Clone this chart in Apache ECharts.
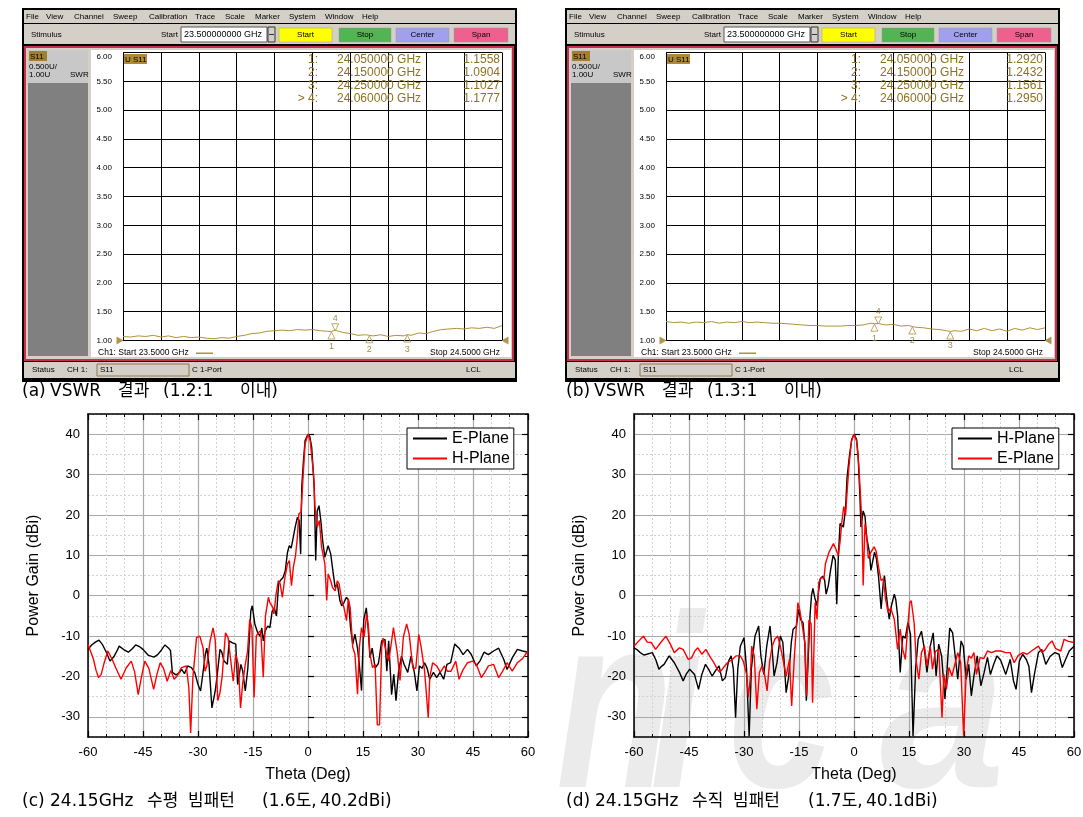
<!DOCTYPE html>
<html><head><meta charset="utf-8">
<script src="https://cdn.jsdelivr.net/npm/echarts@6/dist/echarts.min.js"></script>
<style>html,body{margin:0;padding:0;background:#fff}#c{width:1083px;height:817px}</style>
</head><body><div id="c"></div>
<script>
// ---------------- DATA ----------------
const vswrFreq = [23.50,23.52,23.54,23.56,23.58,23.60,23.62,23.64,23.66,23.68,23.70,23.72,23.74,23.76,23.78,23.80,23.82,23.84,23.86,23.88,23.90,23.92,23.94,23.96,23.98,24.00,24.02,24.04,24.05,24.06,24.08,24.10,24.12,24.14,24.15,24.16,24.18,24.20,24.22,24.24,24.25,24.26,24.28,24.30,24.32,24.34,24.36,24.38,24.40,24.42,24.44,24.46,24.48,24.50];
const vswrA = [1.07,1.06,1.08,1.07,1.09,1.06,1.08,1.05,1.07,1.05,1.06,1.04,1.03,1.05,1.04,1.07,1.09,1.12,1.13,1.16,1.17,1.18,1.17,1.19,1.18,1.19,1.17,1.16,1.1558,1.1777,1.14,1.12,1.09,1.10,1.0904,1.08,1.10,1.07,1.09,1.08,1.1027,1.09,1.13,1.12,1.16,1.19,1.20,1.21,1.20,1.22,1.21,1.23,1.21,1.26];
const vswrB = [1.33,1.31,1.32,1.30,1.32,1.31,1.33,1.30,1.32,1.31,1.33,1.31,1.32,1.31,1.30,1.30,1.29,1.28,1.27,1.26,1.26,1.25,1.25,1.25,1.26,1.26,1.27,1.30,1.2920,1.2950,1.27,1.28,1.25,1.26,1.2432,1.23,1.22,1.20,1.19,1.17,1.1561,1.17,1.16,1.20,1.17,1.21,1.17,1.20,1.16,1.21,1.18,1.22,1.19,1.22];
const markerIds = ['1','2','3','4'];
const markerFreq = [24.05, 24.15, 24.25, 24.06];
const markerValA = [1.1558, 1.0904, 1.1027, 1.1777];
const markerValB = [1.2920, 1.2432, 1.1561, 1.2950];
const stimStart = 23.5, stimStop = 24.5;
const menuItems = ['File','View','Channel','Sweep','Calibration','Trace','Scale','Marker','System','Window','Help'];
const buttonNames = ['Start','Stop','Center','Span'];

// (c) 24.15GHz horizontal pattern
const cEPlane = [[-60,-13.3],[-59,-12.2],[-58,-11.5],[-57,-11],[-56,-12.2],[-55,-14],[-54,-16.2],[-53,-15.2],[-52,-13.5],[-51.5,-12.5],[-50,-13.5],[-49,-14],[-48,-13.2],[-47,-12.2],[-46,-12.6],[-45,-13.3],[-44,-14.3],[-43.5,-14.8],[-42,-15.2],[-41,-14.6],[-40,-13.5],[-39,-12.2],[-38,-13],[-37.5,-13.6],[-37,-19],[-36,-19.6],[-35,-19],[-34.5,-18.2],[-33.7,-19.3],[-32.8,-17.4],[-31.8,-17.8],[-30.9,-19],[-30,-22],[-29.3,-23.6],[-28.6,-18.8],[-28,-14.5],[-27.6,-13],[-27,-17],[-26.2,-27.8],[-25.3,-23.6],[-24.8,-20],[-24,-13.3],[-23.5,-14],[-22.9,-16.2],[-22,-17],[-21.5,-11.2],[-20.6,-11.7],[-19.7,-12],[-19.2,-22],[-18.3,-17],[-17.8,-18.7],[-17.1,-23.6],[-16.4,-17.9],[-15.6,-3.8],[-15.2,-2.5],[-14.5,-7],[-13.8,-9],[-13.1,-10],[-12.6,-8],[-12.2,-11.2],[-11.7,-8.8],[-11,-7.5],[-10.4,-7.9],[-9.8,-4],[-9.2,-3],[-8.6,-5],[-8,3],[-7.5,3.8],[-6.8,4.5],[-6.2,6.2],[-5.6,10.7],[-5.1,12.4],[-4.6,11.8],[-4.2,13.6],[-3.5,17],[-2.9,19.4],[-2.4,18.6],[-2,10.3],[-1.7,27],[-1.3,32.6],[-0.8,38.4],[0,40],[0.5,39.4],[1,36.8],[1.7,27],[2.1,8.7],[2.5,21],[3,22.3],[3.5,18.6],[4,13.6],[4.6,9.5],[5.5,12.4],[6.2,10.3],[6.9,5.4],[7.4,2],[8,2.9],[8.7,-1.2],[9.2,-2.5],[9.8,-1.7],[10.5,-0.4],[11,-1],[11.6,-7.9],[12.2,-12],[12.8,-9.5],[13.5,-13],[14,-17],[14.6,-23.5],[15.2,-6],[15.9,-3],[16.4,-8],[16.9,-15.4],[17.5,-13],[18.3,-17.9],[19.2,-16.8],[20.1,-11.2],[21,-10.8],[21.5,-18.7],[22,-11.2],[22.8,-24.5],[23.4,-19.5],[24,-26],[24.7,-18.8],[25.5,-15],[26.2,-17],[27.2,-19],[28.1,-15],[29,-19],[29.7,-23.6],[30.4,-17.4],[31.1,-18],[31.8,-16.6],[32.5,-18],[33.2,-20.7],[34.2,-19],[35.1,-20.3],[36,-19],[37,-20.7],[37.9,-17],[38.9,-16.6],[40,-12],[41.2,-13],[42.3,-14.6],[43.5,-13.3],[44.5,-14.5],[45.9,-17.4],[47,-16],[48,-14],[49.2,-14.6],[50.6,-13.7],[52,-13],[53.4,-15.8],[54.3,-18.3],[55.7,-15.4],[57.1,-13.3],[58.5,-13.7],[60,-14]];
const cHPlane = [[-60,-12],[-59.2,-14],[-58.5,-15.8],[-57.8,-18.5],[-57.1,-20.3],[-56.4,-19.5],[-55.7,-17],[-54.6,-13.7],[-53.4,-15.8],[-52.4,-17.9],[-51,-20.7],[-49.6,-17.9],[-48.2,-16.2],[-47.3,-18.8],[-46.3,-24.5],[-45.4,-20],[-44.5,-16.2],[-43.4,-18],[-42.1,-23.2],[-41.2,-19.5],[-40.3,-16.6],[-39.4,-18],[-38.4,-21.2],[-37.4,-18.5],[-36.5,-20.7],[-35.6,-19.8],[-34.6,-17.9],[-33.2,-17.4],[-32.5,-22.8],[-32,-34],[-31.4,-20.3],[-30.4,-10.4],[-29.5,-10],[-28.6,-13],[-28.1,-18.7],[-27.6,-17.5],[-26.7,-11.2],[-25.9,-8],[-25.3,-11],[-24.6,-26],[-24,-24],[-23.4,-19.9],[-22.5,-9.2],[-21.8,-10.4],[-21.1,-15.8],[-20.4,-21.2],[-19.7,-14.5],[-19,-17],[-18.4,-27.8],[-17.8,-21.6],[-17.1,-17],[-16.5,-14],[-15.9,-5.9],[-15.3,-8],[-14.7,-25.2],[-14.1,-10],[-13.6,-9.2],[-12.9,-8.7],[-12.2,-20.2],[-11.6,-5],[-10.8,-0.4],[-10.4,-1.7],[-9.6,-2.9],[-9.3,-4.5],[-8.7,0.4],[-8.1,3.7],[-7.6,3],[-7,-0.4],[-6.3,4.5],[-5.6,7.9],[-5.1,8.7],[-4.5,2.5],[-4,7],[-3.4,9.9],[-2.9,14.5],[-2.5,20.2],[-1.9,20.7],[-1.5,27],[-0.8,37.6],[0,40],[0.6,38.4],[1.5,30.2],[1.9,21.9],[2.5,17],[3.1,18.6],[3.7,12],[4.6,7.9],[5.1,-1.2],[5.5,5.4],[6.2,3.7],[6.7,2],[7.4,1.2],[8,3.7],[8.5,2.9],[9.2,-1.2],[9.8,-2.9],[10.5,-6.2],[11,-0.8],[11.5,-2.9],[12.2,-12.8],[12.8,-14.5],[13.5,-24.4],[14,-12.8],[14.6,-7.9],[15.3,-10.3],[16,-4.5],[16.5,-7.9],[16.9,-14.5],[17.6,-17.8],[18.3,-17],[18.9,-32],[19.5,-32],[20.1,-12.8],[20.5,-10.5],[21.3,-13.8],[22,-16.2],[22.5,-13.2],[23.3,-7.9],[23.7,-8],[24.4,-14.5],[25.1,-21],[26,-10.3],[26.9,-7],[27.6,-9.6],[28.6,-17.9],[29.4,-18],[30.2,-9.6],[30.9,-13],[31.8,-18.7],[32.8,-30.2],[33.2,-20.3],[34,-16.6],[35.1,-17.4],[36.1,-19],[37.2,-17.4],[38,-18.7],[39,-18.7],[40.3,-16.2],[41.2,-20.7],[42.2,-18.5],[43.5,-16.6],[44.9,-16.2],[45.9,-17],[47.3,-20.3],[48.2,-19],[49.2,-17.4],[50.6,-17],[52,-20.3],[53.1,-18.7],[54.3,-16.6],[55.7,-18.7],[57.1,-16.6],[58.5,-15.6],[60,-13.7]];
// (d) 24.15GHz vertical pattern
const dHPlane = [[-60,-12.9],[-59,-13.5],[-58.3,-14.1],[-57.3,-14.7],[-56.5,-14.5],[-55,-14.1],[-54,-16],[-53.2,-18.2],[-52.5,-17.5],[-51.8,-17],[-50.4,-14.9],[-49,-16.6],[-47.6,-19],[-46.6,-21.1],[-45.8,-19.5],[-44.8,-18.2],[-43.5,-19.5],[-42.4,-23.2],[-41.5,-19.5],[-40.5,-17],[-39.6,-18.3],[-38.7,-19.9],[-37.8,-18.6],[-36.8,-17.4],[-35.9,-21.1],[-35.1,-20.3],[-34.2,-16.2],[-33.5,-14.9],[-32.9,-18.2],[-32.3,-30.2],[-31.7,-18.2],[-31,-12.5],[-30,-10.4],[-29.3,-18.2],[-28.6,-34.8],[-28,-18.2],[-27,-10],[-26,-7.5],[-25.4,-14.9],[-24.6,-19.5],[-23.8,-12.5],[-22.9,-7.5],[-22.3,-13.5],[-21.8,-19.9],[-21,-16.6],[-20.1,-10],[-19.4,-11.6],[-18.5,-24],[-17.8,-19.9],[-17.1,-11.6],[-16.6,-8.3],[-15.7,-7.5],[-15.1,-3.4],[-14.5,-6],[-13.9,-6.7],[-13.4,-12],[-13,-26],[-12.5,-16],[-12,-5],[-11.6,0],[-11.2,1.8],[-10.7,-0.5],[-10.1,-2.5],[-9.6,1.5],[-9.2,4.2],[-8.5,4.8],[-8,3.8],[-7.6,0.4],[-7,2.5],[-6.4,6.25],[-5.7,10],[-5.1,8.75],[-4.7,-2.1],[-4.3,9],[-3.8,17.9],[-3.3,18.3],[-2.9,17],[-2.3,21.7],[-1.9,29.2],[-1.2,35],[-0.6,38.75],[0,40],[0.7,38.75],[1.1,35],[1.6,25],[1.9,17],[2.5,21],[3,19.6],[3.5,14.2],[4.2,10.8],[4.6,6.25],[5.1,6],[5.6,10.8],[6.1,9.2],[6.7,4.6],[7.4,-3.3],[8,3.3],[8.3,5],[8.9,-0.5],[9.6,-5.8],[10.2,-2.5],[11,0.4],[11.4,-1],[11.9,-5],[12.6,-19],[13.3,-10],[14,-10.5],[14.7,-6.7],[15.4,-9.5],[16.1,-34.8],[16.8,-18.2],[17.5,-10.8],[18.4,-8.8],[19.2,-13.3],[19.9,-19],[20.8,-12.5],[21.6,-9.2],[22.4,-19.9],[23.1,-12],[23.9,-15],[24.8,-25.6],[25.4,-18],[26.1,-8],[26.9,-9.2],[27.6,-15],[28.3,-20.7],[29.2,-11.2],[29.8,-12.5],[30.6,-20.7],[31.3,-17],[32,-24.8],[32.7,-20],[33.6,-14.9],[34.6,-22.3],[35.5,-19],[36.4,-15.3],[37.2,-19.5],[38.1,-17],[39,-14.9],[40,-16],[41.4,-19.5],[42.6,-15.8],[43.5,-21.1],[44.2,-23.2],[45.1,-16.2],[46,-14.5],[47,-15.8],[47.7,-17.5],[48.4,-24],[49.2,-19.5],[50.3,-14.1],[51.2,-13.3],[52.3,-17],[53.5,-15],[54.8,-14.1],[55.9,-14.5],[56.8,-17.8],[57.7,-15.8],[58.7,-13.7],[60,-12.5]];
const dEPlane = [[-60,-12.5],[-59,-11.5],[-57.4,-10],[-56.4,-11.5],[-55.3,-11.6],[-54.1,-13.3],[-52.7,-11.6],[-51.3,-10],[-50.1,-12],[-49,-14.1],[-47.6,-12.9],[-46.6,-13.3],[-45.2,-15.8],[-44.3,-15.4],[-43.4,-13.7],[-42.6,-12.9],[-41.5,-14.5],[-40.4,-13.3],[-39.2,-15.2],[-38.2,-16.6],[-37.3,-18.2],[-36.6,-19],[-35.6,-17.8],[-34.5,-16.6],[-33.2,-15.8],[-32.1,-14.9],[-31,-14.9],[-30.2,-16.2],[-29.3,-19.5],[-28.8,-25.2],[-28.3,-20.5],[-27.9,-12.5],[-27.2,-14.9],[-26.5,-28.1],[-25.8,-19],[-25.1,-17.4],[-24.4,-19.5],[-23.7,-23.6],[-23,-16.2],[-22.3,-12.5],[-21.6,-10.8],[-20.8,-10],[-20.1,-12.5],[-19.2,-16.6],[-18.5,-19.9],[-17.6,-15.8],[-17,-27.3],[-16.3,-15.8],[-15.3,-1.7],[-14.8,-3.5],[-14.1,-7.5],[-13.4,-11.6],[-12.9,-24.8],[-12.3,-6],[-11.7,-7],[-11.3,-26.5],[-10.6,-1.7],[-10.1,-5.8],[-9.6,3.3],[-8.9,4.6],[-8.2,4.2],[-7.8,7.9],[-6.8,10.8],[-5.6,12.9],[-5,11.7],[-4.3,10],[-3.8,13.3],[-3.3,18.3],[-2.8,22.1],[-2.3,20],[-2,24.2],[-1.4,31.7],[-0.7,38.3],[0,40],[0.7,38.3],[1.3,32.5],[1.8,24.2],[2.2,17.1],[2.5,2.5],[3,17.9],[3.5,14],[3.9,9.2],[4.4,10.4],[4.9,11.2],[5.5,12.1],[6.1,10.8],[6.7,7.1],[7.4,3.75],[8,4.2],[8.6,-0.8],[9.3,-4.2],[10,-3],[11,-5.9],[11.9,-13.3],[12.6,-8.3],[13.3,-13.3],[14,-15.8],[14.6,-8.3],[15.2,-1.8],[15.6,-1.2],[16.4,-6.7],[17,-16.6],[17.7,-20.7],[18.4,-14.1],[19.2,-12.5],[19.9,-17.4],[20.8,-12.5],[21.4,-18.2],[22.2,-13.8],[23.1,-13.3],[24,-30.2],[24.5,-19.5],[25.2,-23.2],[25.9,-17.8],[26.7,-19.9],[27.5,-17],[28.3,-14.1],[29.1,-16.6],[29.9,-34.7],[30.6,-19],[31.3,-14.9],[32,-15.5],[32.7,-14.1],[33.4,-19.5],[34.4,-15.3],[35.4,-15.6],[36.4,-13.7],[37.5,-14.1],[38.6,-13.7],[40,-13.7],[41.4,-14.1],[42.6,-14.1],[43.7,-16.6],[44.8,-14.8],[46.1,-14.1],[47.2,-14.5],[48.4,-13.7],[50.3,-12.5],[51.3,-14.1],[52.2,-13.3],[53.1,-12],[54,-11.2],[55,-13.1],[56.4,-13.7],[57.3,-10.8],[58.5,-11.3],[60,-11.6]];

// ---------------- STYLE / LAYOUT ----------------
const F = '"Liberation Sans", Arial, sans-serif';
const FK = '"DejaVu Sans", "Noto Sans CJK KR", sans-serif';
const OLIVE = '#b0923a', OLIVE_TXT = '#8c7222';

function rect(x, y, w, h, fill, stroke, lw, z) {
  return {type:'rect', silent:true, z: z, shape:{x:x, y:y, width:w, height:h},
    style:{fill: fill || 'none', stroke: stroke || null, lineWidth: lw || 0}};
}
function text(x, y, t, o) {
  o = o || {};
  const al = o.align || 'left';
  return {type:'text', silent:true, z: o.z == null ? 60 : o.z, x:x, y:y,
    style:{text:t, font:o.font || ('8px ' + F), fill:o.fill || '#000',
      textAlign:al, align:al, textVerticalAlign:'middle', verticalAlign:'middle'}};
}

const menuX = [26,46,74,113,149,195,225,255,289,325,362];
const btnX = [279,339,396,454], btnW = [53,52,53,54];
const btnColor = ['#ffff00','#52b452','#a0a0ee','#f0608e'];

function vnaPanel(dx, mVals) {
  const g = [];
  g.push(rect(dx+22, 8, 495, 374, '#000', null, 0, -20));
  g.push(rect(dx+24, 10, 491, 13, '#d4d0c8', null, 0, -19));
  g.push(rect(dx+24, 24, 491, 20, '#d4d0c8', null, 0, -19));
  menuItems.forEach((m, i) => g.push(text(dx+menuX[i], 16.5, m)));
  g.push(text(dx+31, 34.5, 'Stimulus'));
  g.push(text(dx+161, 34.5, 'Start'));
  g.push(rect(dx+181, 27, 86, 15, '#fff', '#555', 1, -16));
  g.push(text(dx+184, 34.5, stimStart.toFixed(9) + ' GHz', {font:'9px ' + F}));
  g.push(rect(dx+268, 27, 7, 15, '#d4d0c8', '#333', 1, -16));
  g.push(rect(dx+269, 34, 5, 1, '#333', null, 0, -15));
  buttonNames.forEach((b, i) => {
    g.push(rect(dx+btnX[i], 28, btnW[i], 14, btnColor[i], '#9a9a9a', 0.5, -16));
    g.push(text(dx+btnX[i]+btnW[i]/2, 35, b, {align:'center'}));
  });
  g.push(rect(dx+25, 47, 488, 313, '#d4d0c8', '#c8304a', 2, -18));
  g.push(rect(dx+28, 50, 60, 33, '#c8c8c8', null, 0, -17));
  g.push(rect(dx+28, 83, 60, 273, '#808080', null, 0, -17));
  g.push(rect(dx+91, 50, 420, 307, '#ffffff', null, 0, -17));
  g.push(rect(dx+29, 51, 18, 10, '#a77d28', null, 0, -16));
  g.push(text(dx+30, 56.5, 'S11'));
  g.push(text(dx+29, 66.5, '0.500U/'));
  g.push(text(dx+29, 75, '1.00U'));
  g.push(text(dx+70, 75, 'SWR'));
  g.push(rect(dx+124, 54, 23, 10, '#b0883a', null, 0, -16));
  g.push(text(dx+125, 59.5, 'U S11'));
  const rowY = [60, 72.8, 85.6, 98.4];
  markerIds.forEach((id, i) => {
    const f = {font:'12px ' + F, fill:OLIVE_TXT};
    g.push(text(dx+318, rowY[i], (i === 3 ? '> ' : '') + id + ':', Object.assign({align:'right'}, f)));
    g.push(text(dx+337, rowY[i], markerFreq[i].toFixed(6) + ' GHz', f));
    g.push(text(dx+500, rowY[i], mVals[i].toFixed(4), Object.assign({align:'right'}, f)));
  });
  g.push(text(dx+98, 353, 'Ch1: Start ' + stimStart.toFixed(4) + ' GHz', {font:'8.5px ' + F}));
  g.push(rect(dx+196, 352.5, 17, 1.5, OLIVE, null, 0, -15));
  g.push(text(dx+500, 353, 'Stop ' + stimStop.toFixed(4) + ' GHz', {font:'8.5px ' + F, align:'right'}));
  g.push(rect(dx+24, 362, 491, 16, '#d4d0c8', null, 0, -19));
  g.push(text(dx+32, 370, 'Status'));
  g.push(text(dx+67, 370, 'CH 1:'));
  g.push(rect(dx+97, 364, 92, 12, '#d4d0c8', '#8c7a50', 1, -16));
  g.push(text(dx+100, 370, 'S11'));
  g.push(text(dx+192, 370, 'C 1-Port'));
  g.push(text(dx+466, 370, 'LCL'));
  return g;
}

function caption(words, xs, y) {
  return words.map((w, i) => text(xs[i], y, w, {font:'17px ' + FK}));
}

// faint "nica" watermark behind panel (d)
const wmLetters = ['n','i','c','a'];
const wmX = [556, 650, 728, 880], wmSX = [0.85, 0.85, 0.85, 1.0];
const watermark = wmLetters.map((ch, i) => ({type:'text', silent:true, z:-5,
  x:wmX[i], y:842, scaleX:wmSX[i], scaleY:1.1,
  style:{text:ch, font:'italic bold 225px "Liberation Sans"', fill:'#ebebeb',
    textAlign:'left', align:'left', textVerticalAlign:'bottom', verticalAlign:'bottom'}}));

const graphics = [].concat(
  watermark,
  vnaPanel(0, markerValA),
  vnaPanel(543, markerValB),
  caption(['(a)','VSWR','결과','(1.2:1','이내)'], [22,50,118,163,240], 392),
  caption(['(b)','VSWR','결과','(1.3:1','이내)'], [566,594,662,707,784], 392),
  caption(['(c)','24.15GHz','수평','빔패턴','(1.6도,','40.2dBi)'], [22,50,147,188,262,320], 802),
  caption(['(d)','24.15GHz','수직','빔패턴','(1.7도,','40.1dBi)'], [566,595,692,733,808,866], 802)
);

// ---------------- AXES ----------------
function vnaAxes(gi) {
  const x = {gridIndex:gi, type:'value', min:stimStart, max:stimStop, interval:0.1,
    axisLine:{show:true, onZero:false, lineStyle:{color:'#000', width:1}},
    axisTick:{show:false}, axisLabel:{show:false},
    splitLine:{show:true, lineStyle:{color:'#000', width:1}}};
  const y = {gridIndex:gi, type:'value', min:1, max:6, interval:0.5,
    axisLine:{show:true, onZero:false, lineStyle:{color:'#000', width:1}},
    axisTick:{show:false},
    axisLabel:{show:true, interval:0, margin:11, fontSize:8, fontFamily:F, color:'#000',
      formatter: v => v === 6 ? '{t|6.00}' : v.toFixed(2),
      rich:{t:{fontSize:8, fontFamily:F, color:'#000', padding:[9,0,0,0]}}},
    splitLine:{show:true, lineStyle:{color:'#000', width:1}}};
  return [x, y];
}
const MAJ = '#a8a8a8', MIN = '#d2d2d2';
function patX(gi) {
  const tick = {show:true, inside:true, length:6, lineStyle:{color:'#000', width:1.2}};
  const mtick = {show:true, splitNumber:3, length:3, lineStyle:{color:'#000', width:1}};
  return [
    {gridIndex:gi, type:'value', min:-60, max:60, interval:15, position:'bottom',
      axisLine:{show:true, onZero:false, lineStyle:{color:'#000', width:1.5}},
      axisTick:tick, minorTick:mtick,
      axisLabel:{show:true, interval:0, margin:9, fontSize:13, fontFamily:F, color:'#000'},
      splitLine:{show:true, lineStyle:{color:MAJ, width:1.2}},
      minorSplitLine:{show:true, lineStyle:{color:MIN, width:1, type:[2,2]}},
      name:'Theta (Deg)', nameLocation:'middle', nameGap:30,
      nameTextStyle:{fontSize:16, fontFamily:F, color:'#000'}},
    {gridIndex:gi, type:'value', min:-60, max:60, interval:15, position:'top',
      axisLine:{show:true, onZero:false, lineStyle:{color:'#000', width:1.5}},
      axisTick:tick, minorTick:mtick, axisLabel:{show:false}, splitLine:{show:false}}
  ];
}
function patY(gi) {
  return [
    {gridIndex:gi, type:'value', min:-35, max:45, interval:5, position:'left',
      axisLine:{show:true, onZero:false, lineStyle:{color:'#000', width:1.5}},
      axisTick:{show:false},
      axisLabel:{show:true, interval:0, margin:8, fontSize:13, fontFamily:F, color:'#000',
        formatter: v => (v % 10 === 0 ? String(v) : '')},
      splitLine:{show:false},
      name:'Power Gain (dBi)', nameLocation:'middle', nameGap:46,
      nameTextStyle:{fontSize:16, fontFamily:F, color:'#000'}},
    {gridIndex:gi, type:'value', min:-35, max:45, interval:10, position:'left',
      axisLine:{show:false}, axisLabel:{show:false},
      axisTick:{show:true, inside:true, length:3, lineStyle:{color:'#000', width:1}},
      minorTick:{show:true, splitNumber:2, length:6, lineStyle:{color:'#000', width:1.2}},
      splitLine:{show:true, lineStyle:{color:MIN, width:1, type:[2,2]}},
      minorSplitLine:{show:true, lineStyle:{color:MAJ, width:1.2}}},
    {gridIndex:gi, type:'value', min:-35, max:45, interval:10, position:'right',
      axisLine:{show:true, onZero:false, lineStyle:{color:'#000', width:1.5}}, axisLabel:{show:false},
      axisTick:{show:true, inside:true, length:3, lineStyle:{color:'#000', width:1}},
      minorTick:{show:true, splitNumber:2, length:6, lineStyle:{color:'#000', width:1.2}},
      splitLine:{show:false}}
  ];
}
const va = vnaAxes(0), vb = vnaAxes(1);
const xAxes = [va[0], vb[0]].concat(patX(2), patX(3));
const yAxes = [va[1], vb[1]].concat(patY(2), patY(3));

function vnaSeries(xi, yi, vals, mVals) {
  const pts = vswrFreq.map((f, i) => [f, vals[i]]);
  const mk = markerIds.map((id, i) => {
    const up = i !== 3;
    return {name:id, value:[markerFreq[i], mVals[i]],
      symbolRotate: up ? 0 : 180, symbolOffset: up ? [0, 4] : [0, -3],
      label:{position: up ? 'bottom' : 'top', distance: up ? 2 : 0}};
  });
  return [
    {type:'line', xAxisIndex:xi, yAxisIndex:yi, data:pts, symbol:'none', silent:true,
      lineStyle:{color:OLIVE, width:1}, z:3},
    {type:'scatter', xAxisIndex:xi, yAxisIndex:yi, data:mk, symbol:'triangle', symbolSize:[7,7],
      itemStyle:{color:'rgba(255,255,255,0)', borderColor:OLIVE, borderWidth:1}, z:4,
      label:{show:true, formatter:'{b}', color:OLIVE_TXT, fontSize:9, fontFamily:F}},
    {type:'scatter', xAxisIndex:xi, yAxisIndex:yi, symbol:'triangle', symbolSize:[8,7], z:4,
      itemStyle:{color:'#9c7a22'},
      data:[{value:[stimStart, 1], symbolRotate:-90, symbolOffset:[-3, 0]},
            {value:[stimStop, 1], symbolRotate:90, symbolOffset:[3, 0]}]}
  ];
}
function patSeries(name, xi, yi, data, color) {
  return {name:name, type:'line', xAxisIndex:xi, yAxisIndex:yi, data:data, symbol:'none',
    showSymbol:false, lineStyle:{color:color, width:1.4}, itemStyle:{color:color}, z:3};
}

const legendBase = {orient:'vertical', icon:'rect', itemWidth:34, itemHeight:2, itemGap:3,
  padding:[2,4,2,6], borderColor:'#000', borderWidth:1, backgroundColor:'#fff', borderRadius:0,
  textStyle:{fontSize:16, fontFamily:F, color:'#000', lineHeight:17},
  formatter: n => n.split(' ')[0], selectedMode:false};

const option = {
  animation:false,
  backgroundColor:'#fff',
  graphic:{elements:graphics},
  grid:[
    {left:123, top:52.5, width:379, height:288, outerBoundsMode:'none'},
    {left:666, top:52.5, width:379, height:288, outerBoundsMode:'none'},
    {left:88, top:414, width:440, height:323, outerBoundsMode:'none'},
    {left:634, top:414, width:440, height:323, outerBoundsMode:'none'}
  ],
  xAxis:xAxes,
  yAxis:yAxes,
  legend:[
    Object.assign({}, legendBase, {left:407, top:428, data:['E-Plane c','H-Plane c']}),
    Object.assign({}, legendBase, {left:952, top:428, data:['H-Plane d','E-Plane d']})
  ],
  series:[].concat(
    vnaSeries(0, 0, vswrA, markerValA),
    vnaSeries(1, 1, vswrB, markerValB),
    [patSeries('E-Plane c', 2, 2, cEPlane, '#000000'),
     patSeries('H-Plane c', 2, 2, cHPlane, '#ff0000'),
     patSeries('H-Plane d', 4, 5, dHPlane, '#000000'),
     patSeries('E-Plane d', 4, 5, dEPlane, '#ff0000')]
  )
};
const chart = echarts.init(document.getElementById('c'), null, {renderer:'canvas'});
chart.setOption(option);
</script></body></html>
